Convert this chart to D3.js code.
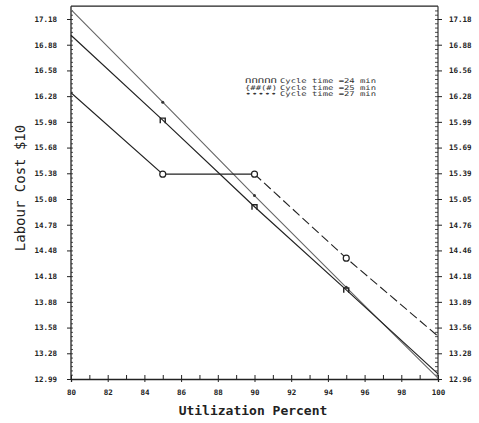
<!DOCTYPE html>
<html>
<head>
<meta charset="utf-8">
<script src="https://cdn.jsdelivr.net/npm/d3@7"></script>
<style>
  html, body { margin: 0; padding: 0; background: #fff; }
  svg { display: block; }
  .tick text { font-family: "DejaVu Sans Mono", monospace; font-weight: bold; font-size: 7.5px; fill: #222; }
  .axis path, .axis line { stroke: #222; }
</style>
</head>
<body>
<svg id="chart" width="479" height="423"></svg>
<script>
// Utilization (%) at which labour cost was evaluated
const utilization = [80, 85, 90, 95, 100];
// Labour cost per cycle-time scenario
const cost24 = [16.32, 15.37, 15.37, 14.39, 13.48];
const cost25 = [16.99, 16.00, 14.99, 14.02, 13.04];
const cost27 = [17.29, 16.21, 15.12, 14.05, 12.99];

// Axis tick values and printed labels
const xTicks = [80, 82, 84, 86, 88, 90, 92, 94, 96, 98, 100];
const yTicks = [17.18, 16.88, 16.58, 16.28, 15.98, 15.68, 15.38, 15.08, 14.78, 14.48, 14.18, 13.88, 13.58, 13.28, 12.98];
const leftLabels = ["17.18", "16.88", "16.58", "16.28", "15.98", "15.68", "15.38", "15.08", "14.78", "14.48", "14.18", "13.88", "13.58", "13.28", "12.99"];
const rightLabels = ["17.18", "16.88", "16.56", "16.28", "15.99", "15.69", "15.39", "15.05", "14.76", "14.46", "14.18", "13.89", "13.56", "13.28", "12.96"];

const legendLabels = ["Cycle time =24 min", "Cycle time =25 min", "Cycle time =27 min"];
const legendGlyphs = ["ՈՈՈՈՈ", "{##(#)", "•••••"];

const svg = d3.select("#chart");
const x = d3.scaleLinear().domain([80, 100]).range([71, 438]);
const y = d3.scaleLinear().domain([12.98, 17.18]).range([379, 19]);
const yTop = 17.33;

const ink = "#222";

// Frame: top edge
svg.append("line")
  .attr("x1", x(80)).attr("x2", x(100))
  .attr("y1", y(yTop)).attr("y2", y(yTop))
  .attr("stroke", ink).attr("stroke-width", 1.2);

// Minor ticks on the vertical axes
const minor = d3.range(0, 87).map(i => +(12.98 + i * 0.05).toFixed(2));
const minorAxisL = d3.axisRight(y).tickValues(minor).tickSize(2).tickFormat("");
const minorAxisR = d3.axisLeft(y).tickValues(minor).tickSize(3).tickFormat("");
svg.append("g").attr("class", "axis").attr("transform", `translate(${x(80)},0)`).call(minorAxisL)
  .call(g => g.select(".domain").remove()).selectAll("line").attr("stroke-width", 0.8);
svg.append("g").attr("class", "axis").attr("transform", `translate(${x(100)},0)`).call(minorAxisR)
  .call(g => g.select(".domain").remove()).selectAll("line").attr("stroke-width", 0.8);

// Left axis
const leftAxis = d3.axisLeft(y).tickValues(yTicks).tickSize(4).tickPadding(10)
  .tickFormat((d, i) => leftLabels[i]);
svg.append("g").attr("class", "axis").attr("transform", `translate(${x(80)},0)`).call(leftAxis)
  .call(g => g.select(".domain").attr("d", `M0,${y(12.98)}V${y(yTop)}`).attr("stroke-width", 1.3));

// Right axis
const rightAxis = d3.axisRight(y).tickValues(yTicks).tickSize(4).tickPadding(7)
  .tickFormat((d, i) => rightLabels[i]);
svg.append("g").attr("class", "axis").attr("transform", `translate(${x(100)},0)`).call(rightAxis)
  .call(g => g.select(".domain").attr("d", `M0,${y(12.98)}V${y(yTop)}`).attr("stroke-width", 1.1));

// Bottom axis: minor ticks every unit, labels every two
const xMinor = d3.range(80, 101);
svg.append("g").attr("class", "axis").attr("transform", `translate(0,${y(12.98)})`)
  .call(d3.axisTop(x).tickValues(xMinor).tickSize(4).tickFormat(""))
  .call(g => g.select(".domain").remove());
svg.append("g").attr("class", "axis").attr("transform", `translate(0,${y(12.98)})`)
  .call(d3.axisBottom(x).tickValues(xTicks).tickSize(3).tickPadding(8).tickFormat(d3.format("d")))
  .call(g => g.select(".domain").attr("stroke-width", 1.3));

// Axis titles
svg.append("text")
  .attr("x", 253).attr("y", 415)
  .attr("text-anchor", "middle")
  .attr("font-family", "DejaVu Sans Mono, monospace")
  .attr("font-size", 13).attr("font-weight", "bold").attr("fill", ink)
  .text("Utilization Percent");

svg.append("text")
  .attr("transform", "translate(25,188) rotate(-90)")
  .attr("text-anchor", "middle")
  .attr("font-family", "DejaVu Sans Mono, monospace")
  .attr("font-size", 14).attr("fill", ink)
  .text("Labour Cost $10");

// Series lines
const line = d3.line().x(d => x(d[0])).y(d => y(d[1]));
const pts = vals => utilization.map((u, i) => [u, vals[i]]);

// 27 min: lighter solid line
svg.append("path").datum(pts(cost27)).attr("d", line)
  .attr("fill", "none").attr("stroke", "#666").attr("stroke-width", 1.1);
// 25 min: dark solid line
svg.append("path").datum(pts(cost25)).attr("d", line)
  .attr("fill", "none").attr("stroke", "#222").attr("stroke-width", 1.2);
// 24 min: solid up to 90 %, dashed afterwards
const p24 = pts(cost24);
svg.append("path").datum(p24.slice(0, 3)).attr("d", line)
  .attr("fill", "none").attr("stroke", "#222").attr("stroke-width", 1.1);
svg.append("path").datum(p24.slice(2)).attr("d", line)
  .attr("fill", "none").attr("stroke", "#222").attr("stroke-width", 1.1)
  .attr("stroke-dasharray", "9,4");

// Markers at the interior utilization levels
const inner = [1, 2, 3];
svg.selectAll(".m24").data(inner).enter().append("circle")
  .attr("cx", i => x(utilization[i])).attr("cy", i => y(cost24[i])).attr("r", 3)
  .attr("fill", "#fff").attr("stroke", "#222").attr("stroke-width", 1.2);
svg.selectAll(".m25").data(inner).enter().append("path")
  .attr("d", i => {
    const cx = x(utilization[i]), cy = y(cost25[i]);
    return `M${cx - 2.5},${cy + 3}V${cy - 2}H${cx + 2.5}V${cy + 3}`;
  })
  .attr("fill", "none").attr("stroke", "#222").attr("stroke-width", 1.4);
svg.selectAll(".m27").data(inner).enter().append("circle")
  .attr("cx", i => x(utilization[i])).attr("cy", i => y(cost27[i])).attr("r", 1.5)
  .attr("fill", "#333");

// Legend
const legend = svg.append("g").attr("font-family", "DejaVu Sans Mono, monospace")
  .attr("font-size", 6.5).attr("fill", "#333");
legendLabels.forEach((lab, i) => {
  const ly = 83 + i * 6.7;
  legend.append("text").attr("x", 245).attr("y", ly)
    .attr("textLength", 32).attr("lengthAdjust", "spacingAndGlyphs")
    .text(legendGlyphs[i]);
  legend.append("text").attr("x", 280).attr("y", ly)
    .attr("textLength", 96).attr("lengthAdjust", "spacingAndGlyphs")
    .text(lab);
});
</script>
</body>
</html>
